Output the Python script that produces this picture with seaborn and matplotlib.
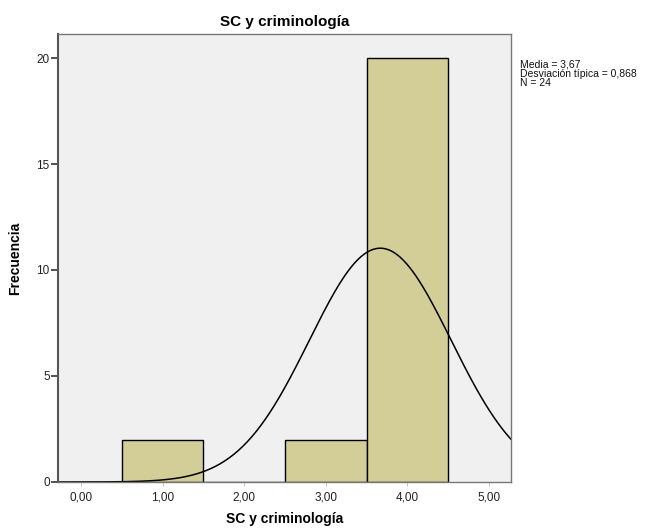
import numpy as np
import pandas as pd
import matplotlib
matplotlib.use("Agg")
import matplotlib.pyplot as plt
import seaborn as sns

# Observed scores and how often each occurs (N = 24)
score_values = [1, 3, 4]
score_counts = [2, 2, 20]
bin_edges = [0.5, 1.5, 2.5, 3.5, 4.5]
x_ticks = [0, 1, 2, 3, 4, 5]
y_ticks = [0, 5, 10, 15, 20]

df = pd.DataFrame({"SC y criminología": np.repeat(score_values, score_counts)})
mean = df["SC y criminología"].mean()
sd = df["SC y criminología"].std()
n = len(df)

sns.set_style("white")
plt.rcParams["font.family"] = ["Liberation Sans", "DejaVu Sans"]
plt.rcParams["text.color"] = "black"

fig = plt.figure(figsize=(6.52, 5.32), dpi=100)
ax = fig.add_axes([0.089, 0.094, 0.695, 0.842])
ax.set_facecolor("#f0f0f0")

sns.histplot(data=df, x="SC y criminología", bins=bin_edges, stat="count",
             color="#d3ce97", edgecolor="black", linewidth=1.0, alpha=1, ax=ax)

# fitted normal curve scaled to counts (bin width = 1)
xs = np.linspace(-0.28, 5.27, 300)
ys = n * 1.0 * np.exp(-0.5 * ((xs - mean) / sd) ** 2) / (sd * np.sqrt(2 * np.pi))
sns.lineplot(x=xs, y=ys, color="black", linewidth=1.1, ax=ax)

ax.set_xlim(-0.28, 5.27)
ax.set_ylim(0, 21.13)
ax.set_xticks(x_ticks)
ax.set_xticklabels([f"{t:.2f}".replace(".", ",") for t in x_ticks], fontsize=8.5)
ax.set_yticks(y_ticks)
ax.set_yticklabels([str(t) for t in y_ticks], fontsize=8.5)
ax.tick_params(axis="y", left=True, direction="out", length=5, width=1.2,
               color="#333333", labelcolor="#222222", pad=1)
ax.tick_params(axis="x", bottom=True, direction="out", length=3, width=0.6,
               color="#bbbbbb", labelcolor="#222222", pad=4)

for side in ["top", "right", "bottom"]:
    ax.spines[side].set_color("#777777")
    ax.spines[side].set_linewidth(1)
ax.spines["left"].set_color("#555555")
ax.spines["left"].set_linewidth(1.5)

ax.set_title("SC y criminología", fontsize=11, fontweight="bold", pad=6, color="black")
ax.set_xlabel("SC y criminología", fontsize=10, fontweight="bold", labelpad=6, color="black")
ax.set_ylabel("Frecuencia", fontsize=10, fontweight="bold", labelpad=10, color="black")

stats_text = (f"Media = {mean:.2f}\n"
              f"Desviación típica = {sd:.3f}\n"
              f"N = {n}").replace(".", ",")
fig.text(0.797, 0.888, stats_text, fontsize=7.5, va="top", ha="left",
         linespacing=0.9, color="#111111")

fig.savefig("out.png", dpi=100)
